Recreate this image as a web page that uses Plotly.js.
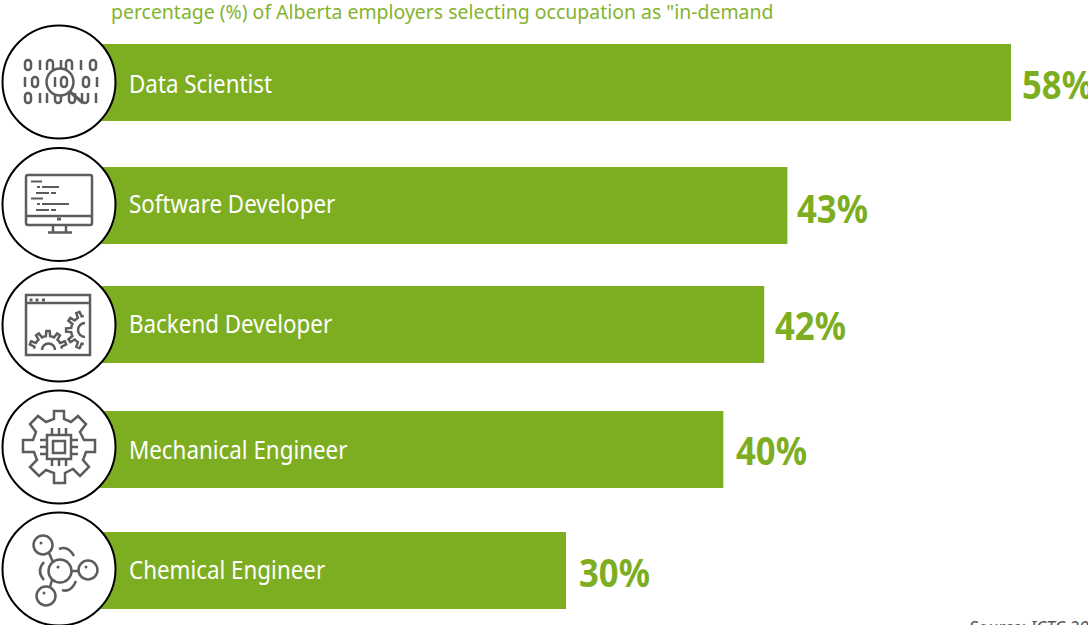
<!DOCTYPE html>
<html><head><meta charset="utf-8">
<script src="https://cdn.plot.ly/plotly-3.0.1.min.js"></script>
<style>html,body{margin:0;padding:0;background:#fff;overflow:hidden}#c{width:1088px;height:625px}</style>
</head><body><div id="c"></div>
<script>
var categories = ["Data Scientist","Software Developer","Backend Developer","Mechanical Engineer","Chemical Engineer"];
// printed labels
var valueLabels = ["58%","43%","42%","40%","30%"];
// values as drawn (bar lengths)
var barValues = [58, 43.93, 42.47, 39.9, 30];
var titleText = 'percentage (%) of Alberta employers selecting occupation as "in-demand';
var sourceText = 'Source: ICTC 2022';
var green = '#7dae21', ink = '#5c5c5c';

// layout: y axis runs in page pixels, x axis placed so 0 and 58 land on the measured positions
var W = 1088, H = 625;
var pxPerUnit = (1011-566)/28, zeroPx = 566-30*pxPerUnit;
var barCenters = [82.5,205.5,324.5,449.5,570.5];
var labelY = [83,203,323,449,569];
var valueX = [1020,795,773,734,577];
var valueY = [83,207,324,449,571];
var circleY = [82,204.5,325,447,569];
function xv(px){return (px-zeroPx)/pxPerUnit;}

function g(s){return '<g fill="none" stroke="'+ink+'" stroke-width="2.5">'+s+'</g>';}
function binRow(y,items){
  return items.map(function(it){
    var k=it[1];
    if(k==1) return '<path d="M'+it[0]+' '+y+'v10"/>';
    if(k==0) return '<rect x="'+(it[0]-3)+'" y="'+y+'" width="6" height="10" rx="3"/>';
    if(k==2) return '<path d="M'+(it[0]-3)+' '+(y+10)+'v-7a3 3 0 0 1 6 0v7"/>';
    return '<path d="M'+(it[0]-3)+' '+y+'v7a3 3 0 0 0 6 0v-7"/>';
  }).join('');
}
// toothed outline between two angles (degrees), for the small cog drawings
function cog(cx,cy,rOut,rIn,teeth,a0,a1){
  var step=(a1-a0)/teeth,pts=[];
  for(var i=0;i<teeth;i++){
    var a=a0+i*step;
    [[0.0,rIn],[0.25,rIn],[0.35,rOut],[0.65,rOut],[0.75,rIn]].forEach(function(p){
      var t=(a+p[0]*step)*Math.PI/180;
      pts.push((cx+p[1]*Math.cos(t)).toFixed(1)+' '+(cy+p[1]*Math.sin(t)).toFixed(1));
    });
  }
  var t=a1*Math.PI/180;
  pts.push((cx+rIn*Math.cos(t)).toFixed(1)+' '+(cy+rIn*Math.sin(t)).toFixed(1));
  return '<path d="M'+pts.join('L')+'"/>';
}
var icons = [
 g(binRow(-22,[[-31,0],[-19,1],[-9,2],[2,1],[10,2],[22,1],[34,0]])+
   binRow(-5,[[-34,1],[-24,0],[27,0],[38,1]])+
   binRow(11,[[-31,0],[-19,1],[-12,1],[-1,3],[13,3],[26,3],[37,1]])+
   '<path d="M10 9L24 21" stroke-width="3.2"/><circle cx="1" cy="0" r="13.5" fill="#fff"/>'+binRow(-5,[[-4,1],[5,0]])),
 g('<rect x="-33" y="-29.5" width="66" height="50" rx="2"/><path d="M-33 11.5H33M-6 21V28M7 21V28M-11 28H13"/>'+
   '<path stroke-width="2.2" d="M-28 -23H-17M-22 -17.5H-19M-17 -17.5H0M-23 -11.5H-10M-8 -11.5H-3M-28 -6H-16M-22 -0.5H-19M-17 -0.5H10M-23 5.5H-10M-8 5.5H-3"/>')+
   '<rect x="-2" y="13" width="4" height="3" fill="'+ink+'"/>',
 g('<rect x="-33" y="-30" width="64" height="60"/><path d="M-33 -22H31"/>')+
   '<g fill="'+ink+'"><rect x="-29.5" y="-26.5" width="3" height="3"/><rect x="-23.5" y="-26.5" width="3" height="3"/><rect x="-17" y="-26.5" width="3" height="3"/></g>'+
   g(cog(-11,25,19,14,5,185,355)+'<path d="M-17 25a6.5 6.5 0 0 1 13 0"/>'+
     cog(26,5,19,14,5,95,265)+'<path d="M26 -2a7 7 0 0 0 0 14"/>'),
 g('<path d="M-5 -36H5V-28L12 -25L19 -31L27 -23L21 -15L25 -7H36V5H27L24 13L30 20L21 29L14 22L6 26V36H-5V26L-13 23L-20 29L-29 20L-22 13L-25 5H-36V-7H-26L-23 -15L-29 -23L-21 -31L-13 -25L-5 -28Z"/>'+
   '<rect x="-12" y="-12" width="24" height="24"/><rect x="-6" y="-6" width="12" height="12"/>'+
   '<path d="M-7 -19V-12M0 -19V-12M7 -19V-12M-7 12V19M0 12V19M7 12V19M-19 -7H-12M-19 0H-12M-19 7H-12M12 -7H19M12 0H19M12 7H19"/>'),
 g('<circle cx="1" cy="2" r="11.5"/><circle cx="-16" cy="-24" r="9.5"/><circle cx="29" cy="1" r="9.5"/><circle cx="-13" cy="27" r="9.5"/>'+
   '<path d="M-10 -16L-6 -7M13 2H20M-7 11L-9 18"/><path d="M0 -20Q9 -24 15 -13"/><path d="M-15 -7Q-23 2 -15 11"/><path d="M3 21Q12 24 17 12"/>')+
   '<g fill="'+ink+'"><circle cx="-18" cy="-26" r="1.5"/><circle cx="-1" cy="-2" r="1.5"/><circle cx="27" cy="-2" r="1.5"/><circle cx="-15" cy="24" r="1.5"/></g>'
];
function iconUri(s){
  var svg = '<svg xmlns="http://www.w3.org/2000/svg" width="120" height="120" viewBox="-60 -60 120 120">'+
    '<circle r="56.5" fill="#fff" stroke="#000" stroke-width="2"/>'+s+'</svg>';
  return 'data:image/svg+xml;base64,'+btoa(svg);
}
var images = icons.map(function(s,i){
  return {source:iconUri(s),xref:'x',yref:'y',x:xv(59-60),y:circleY[i]-60,sizex:120/pxPerUnit,sizey:120,
          xanchor:'left',yanchor:'top',sizing:'stretch',layer:'above'};
});

var annotations = [];
categories.forEach(function(c,i){
  annotations.push({x:xv(127),y:labelY[i],xref:'x',yref:'y',text:c,showarrow:false,xanchor:'left',yanchor:'middle',
    font:{family:'"Noto Sans"',size:26,color:'#fff'}});
});
valueLabels.forEach(function(v,i){
  annotations.push({x:xv(valueX[i]),y:valueY[i],xref:'x',yref:'y',text:v,showarrow:false,xanchor:'left',yanchor:'middle',
    font:{family:'"Noto Sans"',size:39,color:green,weight:700}});
});
annotations.push({x:xv(109),y:11,xref:'x',yref:'y',text:titleText,showarrow:false,xanchor:'left',yanchor:'middle',
  font:{family:'"Noto Sans"',size:19.45,color:'#84b32f'}});
annotations.push({x:xv(967),y:624.9,yshift:-2,xref:'x',yref:'y',text:'<i>'+sourceText+'</i>',showarrow:false,xanchor:'left',yanchor:'middle',
  font:{family:'"Noto Sans"',size:17.5,color:'#595959'}});

var trace = {type:'bar',orientation:'h',x:barValues,y:barCenters,width:77,marker:{color:green,line:{width:0}},hoverinfo:'skip',base:0};
var layout = {
  width:W,height:H,margin:{l:0,r:0,t:0,b:0},paper_bgcolor:'#fff',plot_bgcolor:'#fff',showlegend:false,
  xaxis:{range:[xv(0),xv(W)],visible:false,fixedrange:true},
  yaxis:{range:[H,0],visible:false,fixedrange:true},
  images:images,annotations:annotations
};
Plotly.newPlot('c',[trace],layout,{displayModeBar:false,staticPlot:true}).then(function(){
  // the reference lettering is a condensed cut: narrow the same real text, keeping its left edge
  var nodes=document.querySelectorAll('.annotation-text');
  nodes.forEach(function(n,i){
    var f = i<categories.length ? 0.86 : (i<categories.length+valueLabels.length ? 0.89 : 1);
    if(f<1){
      var w=n.getComputedTextLength();
      n.setAttribute('textLength',(w*f).toFixed(1));
      n.setAttribute('lengthAdjust','spacingAndGlyphs');
      n.setAttribute('x',(parseFloat(n.getAttribute('x'))-w*(1-f)/2).toFixed(1));
    }
  });
});
</script></body></html>
